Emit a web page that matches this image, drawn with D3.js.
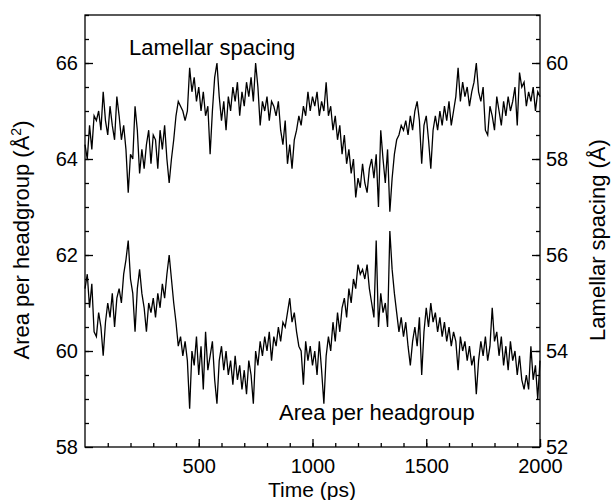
<!DOCTYPE html>
<html>
<head>
<meta charset="utf-8">
<script src="https://cdn.jsdelivr.net/npm/d3@7"></script>
<style>
  body { margin: 0; background: #fff; }
  text { font-family: "Liberation Sans", Arial, sans-serif; fill: #000; }
</style>
</head>
<body>
<div id="chart"></div>
<script>
// sample times (ps), one every 10 ps
const times = d3.range(0, 2001, 10);

// lamellar spacing (Å), right axis
const lamellar = [
  58.3, 58.0, 58.7, 58.2, 58.9, 58.8, 59.0, 58.6, 59.4, 58.8,
  58.5, 59.1, 58.7, 58.4, 59.3, 58.9, 58.4, 58.7, 58.2, 57.3,
  58.1, 58.0, 59.1, 58.6, 57.7, 58.2, 57.8, 58.3, 58.6, 57.9,
  58.5, 58.4, 57.8, 58.6, 58.2, 58.7, 58.0, 57.5, 58.0, 58.4,
  58.9, 59.2, 59.1, 59.0, 58.8, 59.0, 59.9, 59.4, 59.7, 59.2,
  59.5, 59.0, 59.4, 58.9, 59.1, 58.1, 59.0, 59.7, 60.0, 59.3,
  58.8, 59.2, 58.6, 59.3, 59.0, 59.5, 59.2, 59.6, 58.9, 59.4,
  59.1, 59.6, 59.3, 59.7, 59.2, 60.0, 59.5, 58.7, 59.2, 59.0,
  59.3, 58.8, 59.2, 59.1, 58.9, 59.2, 58.6, 58.3, 58.8, 57.9,
  58.3, 57.8, 58.4, 58.6, 58.9, 58.7, 59.1, 58.9, 59.4, 59.0,
  59.3, 59.1, 59.4, 58.9, 59.2, 59.0, 59.6, 58.9, 59.1, 58.6,
  58.9, 58.4, 58.7, 58.1, 58.5, 57.9, 58.2, 57.7, 58.0, 57.2,
  57.6, 57.4, 57.9, 57.5, 57.3, 57.8, 58.0, 57.6, 58.1, 57.0,
  58.6, 58.0, 57.5, 58.2, 56.9, 57.6, 58.1, 58.4, 58.5, 58.7,
  58.6, 58.8, 58.5, 58.9, 58.6, 59.0, 59.2, 58.8, 57.9, 58.7,
  58.9, 58.4, 57.8, 58.6, 58.9, 58.6, 59.0, 58.7, 59.1, 58.8,
  59.2, 58.7, 59.0, 59.3, 59.9, 59.2, 59.6, 59.3, 59.5, 59.1,
  59.4, 59.6, 60.0, 59.4, 59.2, 59.5, 58.6, 58.5, 59.1, 58.9,
  58.6, 59.3, 59.0, 58.7, 59.2, 58.9, 59.3, 59.0, 59.2, 59.5,
  58.7, 59.8, 59.5, 59.6, 59.1, 59.4, 59.2, 59.5, 59.0, 59.4,
  59.3
];

// area per headgroup (Å²), left axis
const area = [
  61.3, 61.6, 60.9, 61.4, 60.4, 60.3, 60.8, 60.5, 59.9, 60.6,
  61.0, 60.7, 61.2, 60.5, 61.1, 61.3, 61.0, 61.6, 61.9, 62.3,
  61.5, 61.2, 60.4, 61.3, 61.7, 61.2, 60.9, 60.4, 61.0, 60.8,
  61.1, 60.7, 61.2, 60.9, 61.4, 61.1, 61.6, 62.0, 61.5, 61.0,
  60.6, 60.1, 60.3, 59.9, 60.2, 59.8, 58.8, 60.0, 59.7, 60.3,
  59.5, 60.1, 59.2, 60.4, 59.6, 59.9, 60.2, 59.4, 58.9, 59.8,
  60.1, 59.6, 60.0, 59.5, 59.8, 59.3, 59.9, 59.4, 59.7, 59.2,
  59.6, 59.1, 59.8, 59.5, 58.9, 60.0, 59.7, 60.2, 59.9, 60.3,
  60.0, 60.4, 59.8, 60.3, 60.1, 60.5, 60.2, 60.6, 60.5, 60.8,
  61.1, 60.6, 60.8, 60.4, 60.1, 60.0, 59.3, 60.2, 59.8, 60.1,
  59.7, 60.0, 59.5, 60.2, 59.6, 58.9, 59.9, 60.3, 60.0, 60.6,
  60.2, 60.8, 60.4, 60.9, 61.1, 60.7, 61.3, 61.0, 61.5, 61.3,
  61.8, 61.6, 61.7, 61.5, 61.8, 61.3, 61.0, 60.7, 62.3, 60.5,
  61.2, 60.8, 61.0, 60.5, 62.5, 61.7, 61.2, 60.8, 60.4, 60.7,
  60.3, 60.6, 60.1, 59.7, 60.2, 60.5, 60.1, 60.7, 59.5, 60.4,
  60.9, 60.5, 61.0, 60.6, 60.8, 60.4, 60.7, 60.3, 60.6, 60.2,
  60.5, 60.1, 60.4, 60.2, 59.6, 60.3, 60.0, 60.2, 59.8, 60.1,
  59.7, 59.9, 59.1, 59.8, 60.2, 59.9, 60.3, 59.8, 60.1, 60.9,
  60.2, 60.4, 59.9, 60.3, 59.7, 60.1, 59.6, 60.2, 59.8, 60.0,
  59.5, 59.9, 59.4, 59.2, 59.5, 59.2, 60.1, 59.4, 59.7, 59.0,
  59.8
];

const xTicks = [500, 1000, 1500, 2000];
const leftTicks = [58, 60, 62, 64, 66];
const rightTicks = [52, 54, 56, 58, 60];

const width = 613, height = 500;
const margin = {top: 15, right: 73, bottom: 53, left: 85};

const svg = d3.select("#chart").append("svg")
    .attr("width", width)
    .attr("height", height);

const x = d3.scaleLinear().domain([0, 2000]).range([margin.left, width - margin.right]);
const yL = d3.scaleLinear().domain([58, 67]).range([height - margin.bottom, margin.top]);
const yR = d3.scaleLinear().domain([52, 61]).range([height - margin.bottom, margin.top]);

// frame
svg.append("rect")
    .attr("x", margin.left).attr("y", margin.top)
    .attr("width", width - margin.left - margin.right)
    .attr("height", height - margin.top - margin.bottom)
    .attr("fill", "none").attr("stroke", "#000").attr("stroke-width", 1.3);

// ticks point inward
function tickStyle(g) {
  g.select(".domain").remove();
  g.selectAll(".tick line").attr("stroke", "#000").attr("stroke-width", 1.3);
  g.selectAll(".tick text").style("font-size", "20px");
}

// bottom
svg.append("g")
    .attr("transform", "translate(0," + (height - margin.bottom) + ")")
    .call(d3.axisBottom(x).tickValues(d3.range(100, 2001, 100)).tickSize(-4).tickFormat(""))
    .call(tickStyle);
svg.append("g")
    .attr("transform", "translate(0," + (height - margin.bottom) + ")")
    .call(d3.axisBottom(x).tickValues(xTicks).tickSize(-8).tickPadding(12).tickFormat(d3.format("d")))
    .call(tickStyle);

// left
svg.append("g")
    .attr("transform", "translate(" + margin.left + ",0)")
    .call(d3.axisLeft(yL).tickValues(d3.range(58.5, 67.01, 0.5)).tickSize(-4).tickFormat(""))
    .call(tickStyle);
svg.append("g")
    .attr("transform", "translate(" + margin.left + ",0)")
    .call(d3.axisLeft(yL).tickValues(leftTicks).tickSize(-8).tickPadding(7))
    .call(tickStyle);

// right
svg.append("g")
    .attr("transform", "translate(" + (width - margin.right) + ",0)")
    .call(d3.axisRight(yR).tickValues(d3.range(52.5, 61.01, 0.5)).tickSize(-4).tickFormat(""))
    .call(tickStyle);
svg.append("g")
    .attr("transform", "translate(" + (width - margin.right) + ",0)")
    .call(d3.axisRight(yR).tickValues(rightTicks).tickSize(-8).tickPadding(6))
    .call(tickStyle);

// series
const lineL = d3.line().x((d, i) => x(times[i])).y(d => yL(d));
const lineR = d3.line().x((d, i) => x(times[i])).y(d => yR(d));

svg.append("path").datum(lamellar)
    .attr("d", lineR).attr("fill", "none")
    .attr("stroke", "#000").attr("stroke-width", 1.3);
svg.append("path").datum(area)
    .attr("d", lineL).attr("fill", "none")
    .attr("stroke", "#000").attr("stroke-width", 1.3);

// labels
svg.append("text")
    .attr("x", 312).attr("y", 497)
    .attr("text-anchor", "middle").style("font-size", "21px")
    .text("Time (ps)");

const lt = svg.append("text")
    .attr("transform", "translate(29," + 240 + ") rotate(-90)")
    .attr("text-anchor", "middle").style("font-size", "22px");
lt.append("tspan").text("Area per headgroup (Å");
lt.append("tspan").attr("dy", -8).style("font-size", "14px").text("2");
lt.append("tspan").attr("dy", 8).text(")");

svg.append("text")
    .attr("transform", "translate(605," + 240 + ") rotate(-90)")
    .attr("text-anchor", "middle").style("font-size", "22px")
    .text("Lamellar spacing (Å)");

svg.append("text")
    .attr("x", 129).attr("y", 55)
    .style("font-size", "22px")
    .text("Lamellar spacing");

svg.append("text")
    .attr("x", 279).attr("y", 420)
    .style("font-size", "22px")
    .text("Area per headgroup");
</script>
</body>
</html>
